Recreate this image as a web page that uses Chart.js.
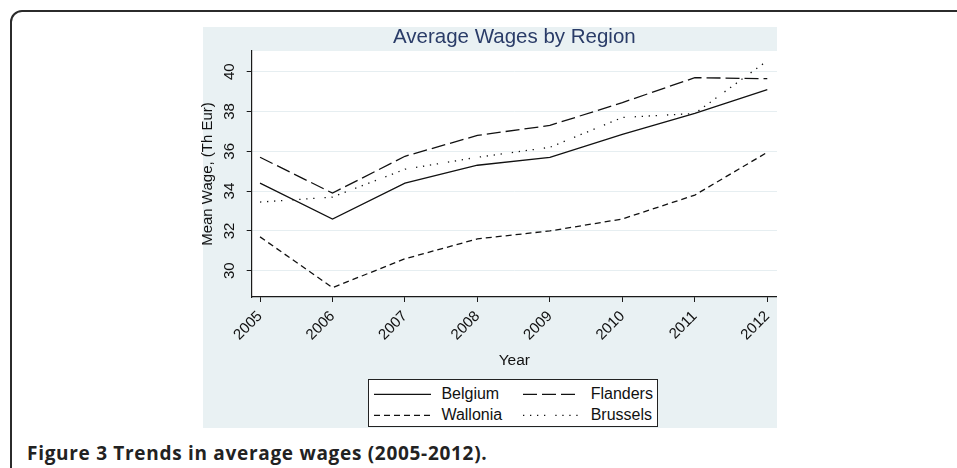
<!DOCTYPE html>
<html>
<head>
<meta charset="utf-8">
<script src="https://cdn.jsdelivr.net/npm/chart.js@4.4.1/dist/chart.umd.min.js"></script>
<style>
  body { margin:0; width:957px; height:468px; background:#fff; position:relative; overflow:hidden; font-family:"Liberation Sans", Arial, sans-serif; }
  #frame { position:absolute; left:10px; top:10px; width:1000px; height:600px; border:2px solid #2b2b2b; border-radius:12px; box-sizing:border-box; }
  #panel { position:absolute; left:203px; top:27px; width:574px; height:401px; background:#e9f1f3; }
  #panel canvas { position:absolute; left:-20px; top:0; }
  #legend { position:absolute; left:165px; top:352px; width:290px; height:48px; background:#fff; border:1px solid #222; box-sizing:border-box; }
  .item { position:absolute; left:0; height:20px; width:288px; }
  .item svg { position:absolute; left:0; top:0; }
  .item span { position:absolute; top:0; font-size:16px; line-height:20px; color:#111; white-space:nowrap; }
  #caption { position:absolute; left:27px; top:443px; font-family:"Open Sans", sans-serif; font-weight:700; font-size:19px; letter-spacing:0.7px; line-height:20px; color:#222; white-space:nowrap; }
</style>
</head>
<body>
<div id="frame"></div>
<div id="panel">
  <canvas id="myChart" width="594" height="401"></canvas>
  <div id="legend"></div>
</div>
<div id="caption">Figure 3 Trends in average wages (2005-2012).</div>
<script>
const years = [2005, 2006, 2007, 2008, 2009, 2010, 2011, 2012];
const belgium  = [34.4, 32.6, 34.4, 35.3, 35.7, 36.85, 37.9, 39.1];
const flanders = [35.7, 33.9, 35.75, 36.8, 37.3, 38.45, 39.7, 39.65];
const wallonia = [31.7, 29.15, 30.6, 31.6, 32.0, 32.6, 33.8, 35.95];
const brussels = [33.45, 33.7, 35.1, 35.7, 36.2, 37.7, 37.9, 40.55];
const yTicks = [30, 32, 34, 36, 38, 40];

const ctx = document.getElementById('myChart');
Chart.defaults.font.family = '"Liberation Sans", Arial, sans-serif';

function pts(vals) {
    return years.map((yr, i) => ({x: yr, y: vals[i]}));
}

function line(label, vals, dash) {
    return {
        label: label,
        data: pts(vals),
        borderColor: '#111',
        borderWidth: 1.3,
        borderDash: dash,
        pointRadius: 0,
        tension: 0,
        fill: false
    };
}

// white plot region inside the grey graph region
const plotBg = {
    id: 'plotBg',
    beforeDraw(chart) {
        const a = chart.chartArea;
        const c = chart.ctx;
        c.save();
        c.fillStyle = '#fff';
        c.fillRect(a.left, a.top, a.right - a.left, a.bottom - a.top);
        c.restore();
    }
};

const dotPattern = [1.3, 5.7, 1.3, 5.7, 1.3, 5.7, 1.3, 10];

const chart = new Chart(ctx, {
    type: 'line',
    data: {
        datasets: [
            line('Belgium', belgium, []),
            line('Flanders', flanders, [14, 5]),
            line('Wallonia', wallonia, [6, 4]),
            line('Brussels', brussels, dotPattern)
        ]
    },
    options: {
        responsive: false,
        animation: false,
        layout: { padding: 0, autoPadding: false },
        plugins: {
            legend: { display: false },
            tooltip: { enabled: false },
            title: {
                display: true,
                text: 'Average Wages by Region',
                color: '#2a3c68',
                fullSize: false,
                font: { size: 20.5, weight: 'normal', lineHeight: 1.024 },
                padding: { top: 0, bottom: 3 }
            }
        },
        scales: {
            x: {
                type: 'linear',
                bounds: 'data',
                min: 2004.885,
                max: 2012.134,
                afterBuildTicks: s => { s.ticks = years.map(v => ({value: v})); },
                afterFit: s => { s.height = 131; s.paddingLeft = 0; s.paddingRight = 0; },
                grid: { drawOnChartArea: false, tickLength: 5, tickColor: '#1a1a1a' },
                border: { color: '#1a1a1a', width: 1.2 },
                ticks: {
                    autoSkip: false, minRotation: 45, maxRotation: 45, padding: 5.5,
                    color: '#111', font: { size: 15 },
                    callback: v => String(v)
                },
                title: {
                    display: true, text: 'Year', color: '#111',
                    font: { size: 15.5, lineHeight: 1.2 },
                    padding: { top: 0, bottom: 57.7 }
                }
            },
            y: {
                type: 'linear',
                bounds: 'data',
                min: 28.68,
                max: 41.04,
                afterBuildTicks: s => { s.ticks = yTicks.map(v => ({value: v})); },
                afterFit: s => { s.width = 68.7; s.paddingTop = 0; s.paddingBottom = 0; },
                grid: { color: '#e6eef1', tickLength: 5, tickColor: '#1a1a1a' },
                border: { color: '#1a1a1a', width: 1.2 },
                ticks: {
                    minRotation: 90, maxRotation: 90, crossAlign: 'center', padding: 8.3,
                    color: '#111', font: { size: 15 },
                    callback: v => String(v)
                },
                title: {
                    display: true, text: 'Mean Wage, (Th Eur)', color: '#111',
                    font: { size: 15, lineHeight: 1 },
                    padding: { top: 17.8, bottom: 0 }
                }
            }
        }
    },
    plugins: [plotBg]
});

// Stata style legend box, 2 columns
const legendPos = [
    { key: [5, 62], label: 72.4, top: 3.7 },
    { key: [154, 210], label: 221.7, top: 3.7 },
    { key: [5, 62], label: 72.4, top: 24.7 },
    { key: [154, 210], label: 221.7, top: 24.7 }
];
const legendEl = document.getElementById('legend');
chart.data.datasets.forEach((ds, i) => {
    const p = legendPos[i];
    const item = document.createElement('div');
    item.className = 'item';
    item.style.top = p.top + 'px';
    const dash = ds.borderDash.length ? ds.borderDash.join(' ') : 'none';
    item.innerHTML = '<svg width="' + (p.key[1] + 2) + '" height="20"><line x1="' + p.key[0] + '" y1="10.3" x2="' + p.key[1] +
        '" y2="10.3" stroke="#111" stroke-width="1.3" stroke-dasharray="' + dash + '"/></svg>' +
        '<span style="left:' + p.label + 'px">' + ds.label + '</span>';
    legendEl.appendChild(item);
});
</script>
</body>
</html>
